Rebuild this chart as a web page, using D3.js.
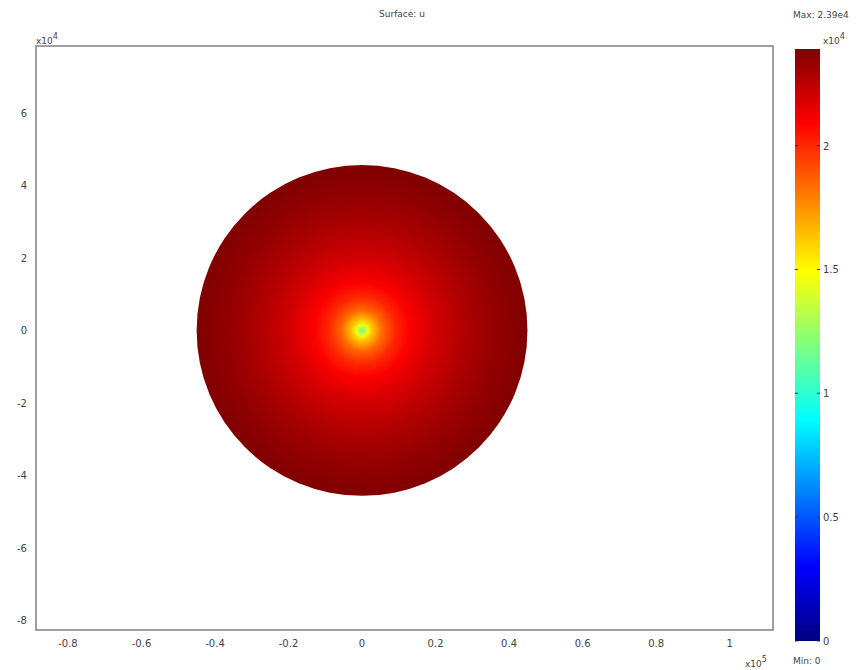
<!DOCTYPE html>
<html>
<head>
<meta charset="utf-8">
<script src="https://cdn.jsdelivr.net/npm/d3@7"></script>
<style>
  body { margin: 0; background: #fff; }
  text { font-family: "DejaVu Sans", sans-serif; fill: #444; }
</style>
</head>
<body>
<svg id="mainFrame"></svg>
<script>
// values (lengths in 1e4 m, u in 1e4)
const xTicks = [-0.8, -0.6, -0.4, -0.2, 0, 0.2, 0.4, 0.6, 0.8, 1]   // x10^5
const yTicks = [-8, -6, -4, -2, 0, 2, 4, 6]                          // x10^4
const cbTicks = [0, 0.5, 1, 1.5, 2]                                  // x10^4
const radialDist = [0, 0.15, 0.3, 0.55, 0.9, 1.3, 2.0, 2.8, 3.6, 4.5]
const uValues = [1.15, 1.45, 1.65, 1.85, 2.0, 2.1, 2.2, 2.28, 2.34, 2.39]
const uMin = 0
const uMax = 2.39
const domainRadius = 4.5

// jet colormap stops
const jetPos = [0, 0.125, 0.375, 0.625, 0.875, 1]
const jetCol = ['#000080', '#0000ff', '#00ffff', '#ffff00', '#ff0000', '#800000']

const width = 864, height = 670

const svg = d3.select('#mainFrame')
    .attr('width', width)
    .attr('height', height)

const frame = {left: 36, right: 773, top: 46, bottom: 630}

const x = d3.scaleLinear().domain([-0.887, 1.118]).range([frame.left, frame.right])
const y = d3.scaleLinear().domain([-8.27, 7.85]).range([frame.bottom, frame.top])
const jet = d3.scaleLinear()
    .domain(jetPos.map(p => uMin + p * (uMax - uMin)))
    .range(jetCol)
    .interpolate(d3.interpolateRgb)

const defs = svg.append('defs')

// radial gradient of u around the centre
const radial = defs.append('radialGradient')
    .attr('id', 'uField')
radial.selectAll('stop')
    .data(radialDist.map((r, i) => ({r, u: uValues[i]})))
    .join('stop')
    .attr('offset', d => d.r / domainRadius)
    .attr('stop-color', d => jet(d.u))

// frame
svg.append('rect')
    .attr('x', frame.left)
    .attr('y', frame.top)
    .attr('width', frame.right - frame.left)
    .attr('height', frame.bottom - frame.top)
    .attr('fill', '#fff')
    .attr('stroke', '#808080')
    .attr('stroke-width', 1.5)

// x10 is 1e5 on x, y in 1e4
const cx = x(0), cy = y(0)
svg.append('circle')
    .attr('cx', cx)
    .attr('cy', cy)
    .attr('r', x(domainRadius / 10) - x(0))
    .attr('fill', 'url(#uField)')

// axes labels
svg.append('g')
    .selectAll('text')
    .data(xTicks)
    .join('text')
    .attr('x', d => x(d))
    .attr('y', 647)
    .attr('text-anchor', 'middle')
    .attr('font-size', 10)
    .text(d => d)

svg.append('g')
    .selectAll('text')
    .data(yTicks)
    .join('text')
    .attr('x', 27)
    .attr('y', d => y(d) + 4)
    .attr('text-anchor', 'end')
    .attr('font-size', 10)
    .text(d => d)

const expLabel = (g, px, py, exp) => {
    const t = g.append('text')
        .attr('x', px)
        .attr('y', py)
        .attr('font-size', 9)
    t.append('tspan').text('x10')
    t.append('tspan').text(exp).attr('dy', -5).attr('font-size', 8)
}

expLabel(svg, 36, 44, '4')
expLabel(svg, 745, 667, '5')

svg.append('text')
    .attr('x', 402)
    .attr('y', 17)
    .attr('text-anchor', 'middle')
    .attr('font-size', 9)
    .text('Surface: u')

// colorbar
const cb = {left: 795, right: 820}
const c = d3.scaleLinear().domain([uMin, uMax]).range([641, 49])

const linear = defs.append('linearGradient')
    .attr('id', 'jetBar')
    .attr('x1', 0).attr('y1', 1)
    .attr('x2', 0).attr('y2', 0)
linear.selectAll('stop')
    .data(jetPos)
    .join('stop')
    .attr('offset', d => d)
    .attr('stop-color', (d, i) => jetCol[i])

svg.append('rect')
    .attr('x', cb.left)
    .attr('y', c(uMax))
    .attr('width', cb.right - cb.left)
    .attr('height', c(uMin) - c(uMax))
    .attr('fill', 'url(#jetBar)')

const cbTickG = svg.append('g')
cbTickG.selectAll('line.l')
    .data(cbTicks)
    .join('line')
    .attr('class', 'l')
    .attr('x1', cb.left).attr('x2', cb.left + 3)
    .attr('y1', d => c(d)).attr('y2', d => c(d))
    .attr('stroke', '#333')
cbTickG.selectAll('line.r')
    .data(cbTicks)
    .join('line')
    .attr('class', 'r')
    .attr('x1', cb.right - 3).attr('x2', cb.right)
    .attr('y1', d => c(d)).attr('y2', d => c(d))
    .attr('stroke', '#333')
cbTickG.selectAll('text')
    .data(cbTicks)
    .join('text')
    .attr('x', 823)
    .attr('y', d => c(d) + 4)
    .attr('font-size', 10)
    .text(d => d)

expLabel(svg, 823, 44, '4')

svg.append('text')
    .attr('x', 793)
    .attr('y', 18)
    .attr('font-size', 9)
    .text('Max: 2.39e4')

svg.append('text')
    .attr('x', 793)
    .attr('y', 664)
    .attr('font-size', 9)
    .text('Min: 0')
</script>
</body>
</html>
